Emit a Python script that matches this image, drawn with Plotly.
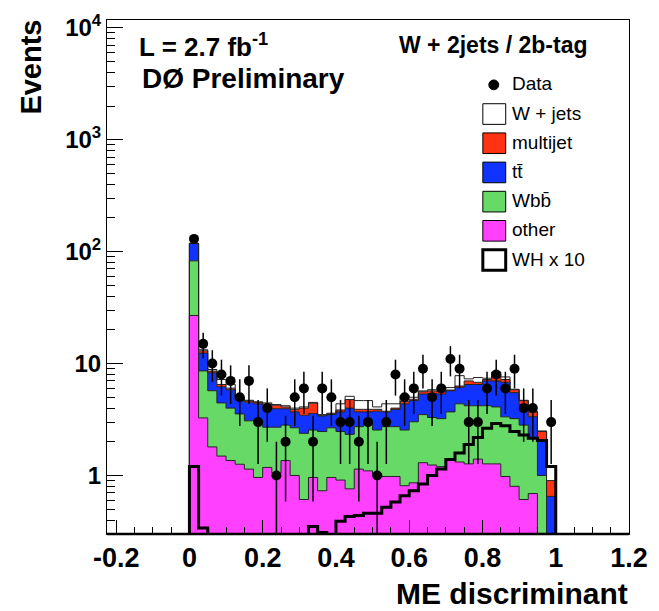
import numpy as np
import plotly.graph_objects as go

# ---------------- data (40 bins from 0 to 1) ----------------
hist_range = (0.0, 1.0)
data_counts = [130, 15, 10, 8, 7, 5, 7, 3, 4, 1, 2, 5, 6, 2, 6, 5, 3, 3, 2, 3,
               1, 3, 8, 5, 6, 9, 5, 6, 11, 9, 3, 3, 6, 8, 6, 9, 4, 4, 0, 3]
other = [26.9, 3.27, 1.80, 1.49, 1.36, 1.26, 1.14, 0.96, 1.18, 1.05, 1.36, 1.0, 0.61, 0.96,
         0.73, 0.96, 0.91, 0.76, 1.14, 1.10, 1.03, 0.98, 0.98, 0.81, 0.86, 1.30, 1.24, 1.20,
         1.40, 1.32, 1.27, 1.40, 1.27, 1.27, 0.98, 0.80, 0.61, 0.69, 0.0, 0.0]
wbb = [55.9, 5.33, 3.92, 2.96, 2.64, 2.29, 1.94, 2.04, 1.52, 1.65, 1.46, 1.67, 1.77, 1.59,
       1.74, 1.71, 1.56, 1.57, 1.59, 1.92, 1.52, 1.75, 1.75, 1.74, 2.16, 2.20, 2.06, 2.02,
       2.30, 3.05, 2.93, 2.80, 2.93, 2.83, 2.36, 2.42, 2.21, 1.46, 1.0, 0.0]
ttbar = [35.2, 3.8, 2.56, 1.75, 1.84, 1.15, 1.44, 1.37, 1.53, 1.25, 1.13, 1.03, 1.07, 1.02,
         0.93, 0.83, 1.23, 1.67, 0.97, 0.68, 1.20, 0.97, 1.17, 1.82, 1.65, 1.84, 2.10, 2.12,
         2.02, 1.76, 2.30, 2.30, 2.80, 2.90, 3.46, 2.28, 1.48, 1.20, 1.05, 0.65]
multijet = [0.5, 0.6, 0.29, 0.3, 0.19, 0.2, 0.12, 0.13, 0.12, 0.3, 0.15, 0.2, 0.55, 0.85,
            0.05, 0.05, 0.15, 0.77, 0.2, 0.2, 0.15, 0.05, 0.1, 0.23, 0.13, 0.26, 0.3, 0.26,
            0.08, 0.17, 0.5, 0.3, 0.2, 1.0, 0.4, 0.34, 0.37, 0.35, 0.42, 0.25]
wjets = [0.5, 0.3, 0.28, 0.7, 0.5, 0.1, 0.06, 0.05, 0.1, 0.05, 0.1, 0.1, 0.1, 0.08,
         0.05, 0.05, 0.52, 0.33, 0.77, 0.77, 0.2, 0.62, 0.37, 0.57, 0.2, 0.1, 0.14, 0.24,
         0.3, 1.5, 0.3, 0.7, 0.2, 0.4, 0.4, 0.06, 0.03, 0.05, 0.03, 0.3]
wh_x10 = [1.2, 0.34, 0.1, 0.05, 0.05, 0.05, 0.05, 0.05, 0.05, 0.05, 0.05, 0.1, 0.2, 0.35,
          0.31, 0.28, 0.39, 0.43, 0.44, 0.46, 0.46, 0.52, 0.58, 0.66, 0.73, 0.84, 1.0, 1.14,
          1.39, 1.59, 1.89, 2.18, 2.64, 2.92, 2.78, 2.47, 2.3, 2.15, 2.05, 1.2]

x_tick_vals = [-0.2, 0.0, 0.2, 0.4, 0.6, 0.8, 1.0, 1.2]
x_tick_text = ["-0.2", "0", "0.2", "0.4", "0.6", "0.8", "1", "1.2"]
y_tick_vals = [1, 10, 100, 1000, 10000]
y_tick_text = ["1", "10", "10<sup>2</sup>", "10<sup>3</sup>", "10<sup>4</sup>"]

stack_names = ["other", "Wbb\u0304", "tt\u0304", "multijet", "W + jets"]
stack_values = [other, wbb, ttbar, multijet, wjets]
stack_colors = ["#ff40ff", "#66d966", "#1133ff", "#ff3311", "#ffffff"]

legend_names = ["Data", "W + jets", "multijet", "tt\u0304", "Wbb\u0304", "other", "WH x 10"]
legend_colors = [None, "#ffffff", "#ff3311", "#1133ff", "#66d966", "#ff40ff", "#ffffff"]

# ---------------- geometry ----------------
FIG_W, FIG_H = 659, 611
ML, MR, MT, MB = 107, 27, 11, 77
PW, PH = FIG_W - ML - MR, FIG_H - MT - MB
X_RANGE = [-0.225, 1.2]
Y_RANGE = [np.log10(0.3), 4.07]
FLOOR = 1e-3


def px(xp):
    return (xp - ML) / PW


def py(yp):
    return (FIG_H - MB - yp) / PH


nb = len(data_counts)
edges = np.linspace(hist_range[0], hist_range[1], nb + 1)
centers = 0.5 * (edges[:-1] + edges[1:])
step_x = np.concatenate([[edges[0]], edges[:-1], [edges[-1], edges[-1]]])


def step_y(vals):
    v = np.maximum(np.asarray(vals, dtype=float), FLOOR)
    return np.concatenate([[FLOOR], v, [v[-1], FLOOR]])


fig = go.Figure()

# baseline for fills
fig.add_trace(go.Scatter(x=step_x, y=step_y(np.zeros(nb)), mode="lines",
                         line=dict(width=0, shape="hv"), hoverinfo="skip",
                         showlegend=False))
cum = np.zeros(nb)
for name, vals, col in zip(stack_names, stack_values, stack_colors):
    cum = cum + np.asarray(vals)
    fig.add_trace(go.Scatter(x=step_x, y=step_y(cum), mode="lines", name=name,
                             line=dict(color="#222222", width=1, shape="hv"),
                             fill="tonexty", fillcolor=col, showlegend=False))

# WH x 10
fig.add_trace(go.Scatter(x=step_x, y=step_y(wh_x10), mode="lines", name="WH x 10",
                         line=dict(color="black", width=3, shape="hv"), showlegend=False))

# data
dc = np.asarray(data_counts, dtype=float)
mask = dc > 0
fig.add_trace(go.Scatter(x=centers[mask], y=dc[mask], mode="markers", name="Data",
                         marker=dict(color="black", size=10),
                         error_y=dict(type="data", array=np.sqrt(dc[mask]), color="black",
                                      thickness=1.5, width=0),
                         showlegend=False))

font_b = dict(family="Liberation Sans, Arial, sans-serif", color="black", weight="bold")

fig.update_layout(
    width=FIG_W, height=FIG_H,
    margin=dict(l=ML, r=MR, t=MT, b=MB, pad=0),
    paper_bgcolor="white", plot_bgcolor="white",
    showlegend=False,
    xaxis=dict(range=X_RANGE, showgrid=False, zeroline=False,
               showline=True, linecolor="black", linewidth=1, mirror=True,
               ticks="inside", ticklen=14, tickwidth=1, tickcolor="black",
               tickvals=x_tick_vals, ticktext=x_tick_text,
               tickfont=dict(size=27, **font_b),
               minor=dict(dtick=0.05, tick0=0, ticks="inside", ticklen=7,
                          tickcolor="black", tickwidth=1, showgrid=False)),
    yaxis=dict(type="log", range=Y_RANGE, showgrid=False, zeroline=False,
               showline=True, linecolor="black", linewidth=1, mirror=True,
               ticks="inside", ticklen=16, tickwidth=1, tickcolor="black",
               tickvals=y_tick_vals, ticktext=y_tick_text,
               tickfont=dict(size=24, **font_b),
               minor=dict(tickvals=[m * 10 ** k for k in range(-1, 5) for m in range(2, 10)],
                          ticks="inside", ticklen=8, tickcolor="black", tickwidth=1,
                          showgrid=False)),
)

shapes = [dict(type="line", xref="paper", yref="paper", x0=0, x1=1, y0=0, y1=0,
               line=dict(color="black", width=2.5))]
annotations = []

# axis titles
annotations.append(dict(text="Events", xref="paper", yref="paper", x=px(31), y=py(59),
                        textangle=-90, showarrow=False, xanchor="center", yanchor="middle",
                        font=dict(size=29, **font_b)))
annotations.append(dict(text="ME discriminant", xref="paper", yref="paper", x=px(633), y=py(595),
                        showarrow=False, xanchor="right", yanchor="middle",
                        font=dict(size=30, **font_b)))
# labels
annotations.append(dict(text="L = 2.7 fb<sup>-1</sup>", xref="paper", yref="paper",
                        x=px(137), y=py(37), showarrow=False, xanchor="left", yanchor="middle",
                        font=dict(size=26, **font_b)))
annotations.append(dict(text="D\u00d8 Preliminary", xref="paper", yref="paper",
                        x=px(140), y=py(71), showarrow=False, xanchor="left", yanchor="middle",
                        font=dict(size=28, **font_b)))
annotations.append(dict(text="W + 2jets / 2b-tag", xref="paper", yref="paper",
                        x=px(593), y=py(36), showarrow=False, xanchor="right", yanchor="middle",
                        font=dict(size=23, **font_b)))

# manual legend
for i, (nm, col) in enumerate(zip(legend_names, legend_colors)):
    cy = 77 + 29.7 * i
    if nm == "Data":
        shapes.append(dict(type="circle", xref="paper", yref="paper",
                           x0=px(491), x1=px(501), y0=py(cy + 5), y1=py(cy - 5),
                           fillcolor="black", line=dict(color="black", width=1)))
    else:
        lw = 3 if nm.startswith("WH") else 1
        shapes.append(dict(type="rect", xref="paper", yref="paper",
                           x0=px(485), x1=px(508), y0=py(cy + 10.5), y1=py(cy - 10.5),
                           fillcolor=col, line=dict(color="black", width=lw)))
    annotations.append(dict(text=nm, xref="paper", yref="paper", x=px(512), y=py(cy - 1),
                            showarrow=False, xanchor="left", yanchor="middle",
                            font=dict(size=19, family="Liberation Sans, Arial, sans-serif",
                                      color="black")))

fig.update_layout(shapes=shapes, annotations=annotations)
fig.write_html("out.html")
